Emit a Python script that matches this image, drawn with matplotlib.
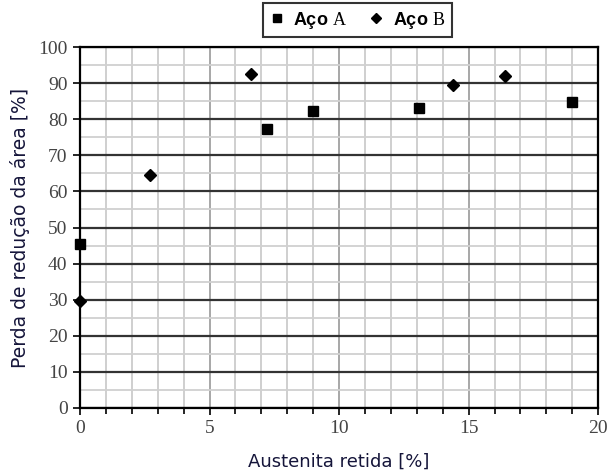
import matplotlib
matplotlib.use('Agg')
import matplotlib.pyplot as plt
from matplotlib.ticker import MultipleLocator

# dados
aco_a_x = [0, 7.2, 9.0, 13.1, 19.0]
aco_a_y = [45.5, 77.3, 82.2, 83.1, 84.8]
aco_b_x = [0, 2.7, 6.6, 14.4, 16.4]
aco_b_y = [29.5, 64.5, 92.5, 89.4, 91.9]

plt.rcParams['mathtext.fontset'] = 'custom'
plt.rcParams['mathtext.rm'] = 'Liberation Serif'
plt.rcParams['mathtext.bf'] = 'Liberation Sans:bold'

fig = plt.figure(figsize=(6.11, 4.76), dpi=100)
ax = fig.add_axes([0.131, 0.143, 0.848, 0.758])

ax.plot(aco_a_x, aco_a_y, 's', color='black', markersize=6.5, clip_on=False, zorder=5,
        label=r'$\mathbf{Aço}\ \mathrm{A}$')
ax.plot(aco_b_x, aco_b_y, 'D', color='black', markersize=6, clip_on=False, zorder=5,
        label=r'$\mathbf{Aço}\ \mathrm{B}$')

ax.set_xlim(0, 20)
ax.set_ylim(0, 100)
ax.xaxis.set_major_locator(MultipleLocator(5))
ax.xaxis.set_minor_locator(MultipleLocator(1))
ax.yaxis.set_major_locator(MultipleLocator(10))
ax.yaxis.set_minor_locator(MultipleLocator(5))

# grade
ax.grid(True, which='minor', axis='x', color='#cccccc', linewidth=1.3)
ax.grid(True, which='major', axis='x', color='#a0a0a0', linewidth=1.3)
ax.grid(True, which='minor', axis='y', color='#d0d0d0', linewidth=1.3)
ax.grid(True, which='major', axis='y', color='#333333', linewidth=1.6)
ax.set_axisbelow(True)

for s in ax.spines.values():
    s.set_linewidth(1.6)
    s.set_color('black')

ax.tick_params(axis='both', which='major', direction='out', length=5, width=1.2,
               labelsize=14, labelcolor='#444444', pad=4)
ax.tick_params(axis='x', which='minor', direction='out', length=4, width=1.2)
ax.tick_params(axis='y', which='minor', length=0)
for lab in ax.get_xticklabels() + ax.get_yticklabels():
    lab.set_fontfamily('Liberation Serif')

ax.set_xlabel('Austenita retida [%]', fontsize=13, color='#15153a', labelpad=11)
ax.set_ylabel('Perda de redução da área [%]', fontsize=13.5, color='#15153a', labelpad=6)

leg = fig.legend(loc='upper center', bbox_to_anchor=(0.585, 1.012), ncol=2,
                 frameon=True, fancybox=False, edgecolor='black', fontsize=13,
                 handlelength=0.8, handletextpad=0.5, columnspacing=1.2,
                 borderpad=0.35, markerscale=0.8)
leg.get_frame().set_linewidth(1.5)

fig.savefig('out.png', dpi=100)
